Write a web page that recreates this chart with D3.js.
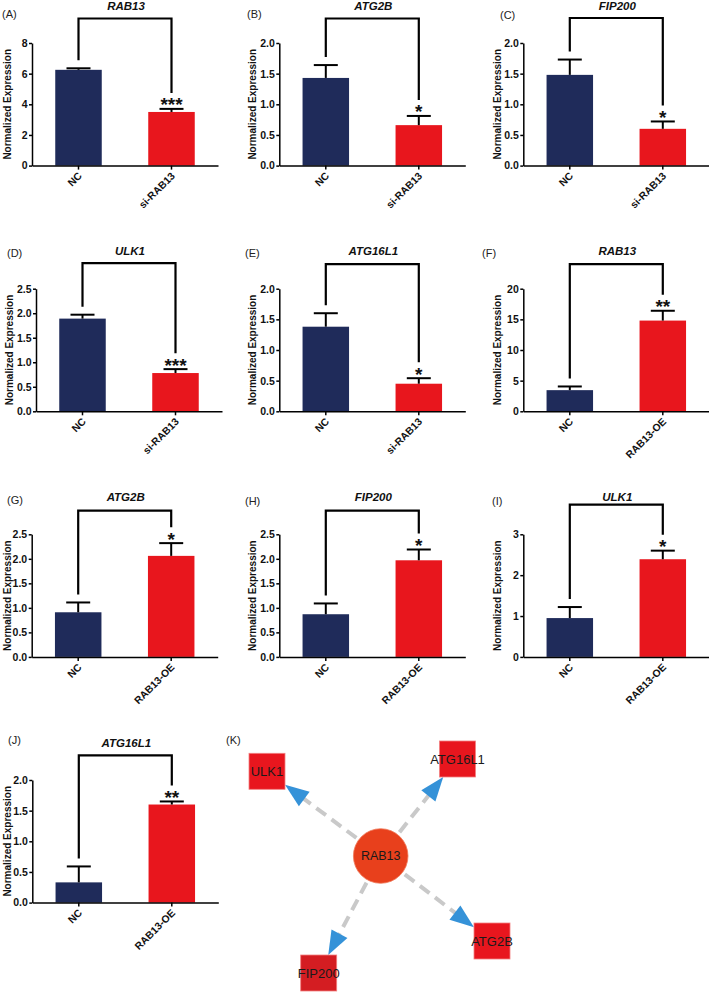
<!DOCTYPE html>
<html><head><meta charset="utf-8">
<script src="https://cdn.jsdelivr.net/npm/d3@7"></script>
<style>body{margin:0;background:#fff;} svg{display:block;}</style>
</head><body>
<svg id="c" width="709" height="992"></svg>
<script>
// ---------------- data ----------------
const panelLabels = ["(A)","(B)","(C)","(D)","(E)","(F)","(G)","(H)","(I)","(J)"];
const genes = ["RAB13","ATG2B","FIP200","ULK1","ATG16L1","RAB13","ATG2B","FIP200","ULK1","ATG16L1"];
const knockdownGroups = ["NC","si-RAB13"];
const overexpressGroups = ["NC","RAB13-OE"];
const ncMeans      = [6.25, 1.43, 1.48, 1.89, 1.38, 3.45, 0.91, 0.87, 0.95, 0.33];
const ncErrors     = [0.10, 0.21, 0.25, 0.08, 0.22, 0.60, 0.20, 0.22, 0.27, 0.26];
const treatedMeans = [3.50, 0.66, 0.60, 0.78, 0.45, 14.8, 2.06, 1.97, 2.39, 1.60];
const treatedErrors= [0.20, 0.15, 0.12, 0.08, 0.09, 1.60, 0.26, 0.22, 0.21, 0.05];
const significance = ["***","*","*","***","*","**","*","*","*","**"];
const yMaxima   = [8, 2, 2, 2.5, 2, 20, 2.5, 2.5, 3, 2];
const yTickSteps= [2, 0.5, 0.5, 0.5, 0.5, 5, 0.5, 0.5, 1, 0.5];
const yAxisTitle = "Normalized Expression";
const networkNodes = ["RAB13","ULK1","ATG16L1","ATG2B","FIP200"];
const networkEdges = [["RAB13","ULK1"],["RAB13","ATG16L1"],["RAB13","ATG2B"],["RAB13","FIP200"]];

// ---------------- layout / style ----------------
const layout = [
  {ax:32,    top:43,    lab:[2,18],    tx:7.5,   raise:24.5},
  {ax:279.3, top:43,    lab:[247,18],  tx:252.5, raise:24.5},
  {ax:523.3, top:43,    lab:[500,19],  tx:497.5, raise:25},
  {ax:36,    top:288.7, lab:[7,257],   tx:9,     raise:25.5},
  {ax:279.3, top:288.7, lab:[245,257], tx:252.5, raise:24.5},
  {ax:523.3, top:288.7, lab:[482,257], tx:497.5, raise:24.5},
  {ax:31.7,  top:534.3, lab:[7,504],   tx:7.5,   raise:23.6},
  {ax:279.3, top:534.3, lab:[245,505], tx:252.5, raise:23.6},
  {ax:523.3, top:534.3, lab:[492,505], tx:497.5, raise:29.6},
  {ax:32.3,  top:780,   lab:[8,744],   tx:7.5,   raise:24.7}
];
const plotH = 122.6, plotW = 186;
const NAVY = "#1f2b5a", RED = "#e8161d";
const FONT = "Arial, 'Liberation Sans', Helvetica, sans-serif";

const svg = d3.select("#c").style("font-family", FONT);
svg.append("rect").attr("width",709).attr("height",992).attr("fill","#fff");

panelLabels.forEach((pl, i) => {
  const L = layout[i];
  const groups = i < 5 ? knockdownGroups : overexpressGroups;
  const g = svg.append("g");
  const x = d3.scaleBand().domain(groups).range([L.ax, L.ax + plotW]).paddingInner(0.5).paddingOuter(0.25);
  const y = d3.scaleLinear().domain([0, yMaxima[i]]).range([L.top + plotH, L.top]);
  const means = [ncMeans[i], treatedMeans[i]];
  const errs = [ncErrors[i], treatedErrors[i]];
  const data = groups.map((k, j) => ({k, m: means[j], e: errs[j], c: j === 0 ? NAVY : RED}));

  g.selectAll("rect.bar").data(data).join("rect").attr("class","bar")
    .attr("x", d => x(d.k)).attr("width", x.bandwidth())
    .attr("y", d => y(d.m)).attr("height", d => y(0) - y(d.m))
    .attr("fill", d => d.c);

  const capW = 24;
  data.forEach(d => {
    const cx = x(d.k) + x.bandwidth()/2;
    g.append("line").attr("x1",cx).attr("x2",cx).attr("y1",y(d.m)).attr("y2",y(d.m+d.e))
      .attr("stroke","#000").attr("stroke-width",2);
    g.append("line").attr("x1",cx-capW/2).attr("x2",cx+capW/2).attr("y1",y(d.m+d.e)).attr("y2",y(d.m+d.e))
      .attr("stroke","#000").attr("stroke-width",2);
  });

  const step = yTickSteps[i];
  const ticks = d3.range(0, yMaxima[i] + step/2, step);
  const fmt = step < 1 ? d3.format(".1f") : d3.format("d");
  const ya = g.append("g").attr("transform", `translate(${L.ax},0)`)
    .call(d3.axisLeft(y).tickValues(ticks).tickFormat(fmt).tickSize(3).tickPadding(1.5).tickSizeOuter(0));
  ya.select(".domain").attr("stroke","#000").attr("stroke-width",1.5);
  ya.selectAll(".tick line").attr("stroke","#000").attr("stroke-width",1.5);
  ya.selectAll(".tick text").attr("font-family",FONT).attr("font-size",10.5).attr("font-weight","bold").attr("fill","#111");

  const xa = g.append("g").attr("transform", `translate(0,${y(0)})`)
    .call(d3.axisBottom(x).tickSize(4).tickSizeOuter(0).tickFormat(""));
  xa.select(".domain").attr("stroke","#000").attr("stroke-width",1.5);
  xa.selectAll(".tick line").attr("stroke","#000").attr("stroke-width",1.5);
  groups.forEach(k => {
    const cx = x(k) + x.bandwidth()/2 + 4, cy = y(0) + 11;
    g.append("text").attr("transform", `translate(${cx},${cy}) rotate(-45)`)
      .attr("text-anchor","end").attr("font-size",10.3).attr("font-weight","bold").attr("fill","#111").text(k);
  });

  g.append("text").attr("transform", `translate(${L.tx},${L.top + plotH/2}) rotate(-90)`)
    .attr("text-anchor","middle").attr("dominant-baseline","central")
    .attr("font-size",10).attr("font-weight","bold").attr("fill","#111").text(yAxisTitle);

  g.append("text").attr("x", L.ax + plotW/2 + 1).attr("y", L.top - 33.5)
    .attr("text-anchor","middle").attr("font-size",11.5).attr("font-weight","bold").attr("font-style","italic")
    .attr("fill","#111").text(genes[i]);

  g.append("text").attr("x", L.lab[0]).attr("y", L.lab[1]).attr("font-size",11).attr("fill","#222").text(pl);

  const lx = x(groups[0]) + x.bandwidth()/2, rx = x(groups[1]) + x.bandwidth()/2;
  const lBottom = y(means[0] + errs[0]) - 8;
  const rTopErr = y(means[1] + errs[1]);
  const rBottom = rTopErr - 16;
  const bTop = L.top - L.raise;
  g.append("path").attr("d", `M${lx},${lBottom}V${bTop}H${rx}V${rBottom}`)
    .attr("fill","none").attr("stroke","#000").attr("stroke-width",2.2);
  g.append("text").attr("x", rx).attr("y", rTopErr + 2.5).attr("text-anchor","middle")
    .attr("font-size",19).attr("font-weight","bold").attr("fill","#111").text(significance[i]);
});

// ---------------- network panel (K) ----------------
const nodeLayout = {RAB13:[380.7,856], ULK1:[267,771.3], ATG16L1:[457.5,759], ATG2B:[492,941], FIP200:[318.7,973]};
const nodeFill = {RAB13:"#e8401c", ULK1:"#e8161e", ATG16L1:"#e8161e", ATG2B:"#e8161e", FIP200:"#d41d22"};
const R = 27.3, HALF = 18, ARROW_L = 24, ARROW_W = 9;
const gk = svg.append("g");
gk.append("text").attr("x",226).attr("y",744).attr("font-size",11).attr("fill","#222").text("(K)");

networkEdges.forEach(([s, t]) => {
  const [x1, y1] = nodeLayout[s], [x2, y2] = nodeLayout[t];
  const dx = x2 - x1, dy = y2 - y1, len = Math.hypot(dx, dy);
  const ux = dx/len, uy = dy/len;
  const sq = HALF / Math.max(Math.abs(ux), Math.abs(uy));
  const tipX = x2 - ux*sq, tipY = y2 - uy*sq;
  const baseX = tipX - ux*ARROW_L, baseY = tipY - uy*ARROW_L;
  gk.append("line").attr("x1", x1 + ux*(R+3)).attr("y1", y1 + uy*(R+3))
    .attr("x2", baseX + ux*2).attr("y2", baseY + uy*2)
    .attr("stroke","#c9c9c9").attr("stroke-width",4).attr("stroke-dasharray","12,7");
  const px = -uy, py = ux;
  gk.append("path").attr("d", `M${tipX},${tipY}L${baseX+px*ARROW_W},${baseY+py*ARROW_W}L${baseX-px*ARROW_W},${baseY-py*ARROW_W}Z`)
    .attr("fill","#3592d8");
});

networkNodes.forEach(n => {
  const [cx, cy] = nodeLayout[n];
  if (n === "RAB13") {
    gk.append("circle").attr("cx",cx).attr("cy",cy).attr("r",R).attr("fill",nodeFill[n]).attr("stroke","#f07a5a").attr("stroke-width",0.8);
  } else {
    gk.append("rect").attr("x",cx-HALF).attr("y",cy-HALF).attr("width",HALF*2).attr("height",HALF*2)
      .attr("fill",nodeFill[n]).attr("stroke","#f28080").attr("stroke-width",0.8);
  }
  gk.append("text").attr("x",cx).attr("y",cy).attr("text-anchor","middle").attr("dominant-baseline","central")
    .attr("font-size", n === "RAB13" ? 12.5 : 13).attr("fill","#1a1a1a").text(n);
});
</script>
</body></html>
